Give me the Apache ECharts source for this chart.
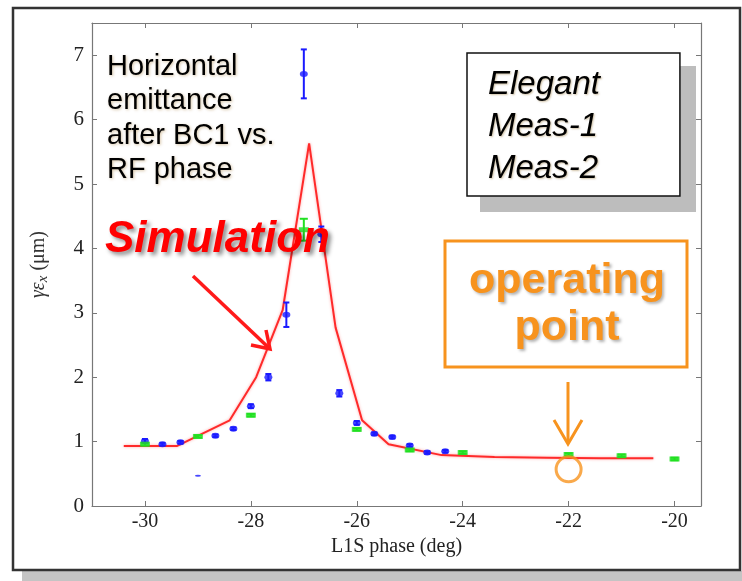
<!DOCTYPE html>
<html><head><meta charset="utf-8">
<script src="https://cdn.jsdelivr.net/npm/echarts@6/dist/echarts.min.js"></script>
<style>html,body{margin:0;padding:0;background:#fff}#c{width:742px;height:581px}</style>
</head><body><div id="c"></div>
<script>
// ---- data ----
const simX = [-30.4, -29.4, -28.4, -27.9, -27.4, -26.9, -26.4, -25.9, -25.4, -24.4, -23.4, -22.4, -21.4, -20.4];
const simY = [0.93, 0.93, 1.33, 2.0, 3.04, 5.63, 2.77, 1.33, 0.96, 0.79, 0.76, 0.75, 0.74, 0.74];

const meas1X = [-30, -29.67, -29.33, -29, -28.67, -28.33, -28, -27.67, -27.33, -27, -26.67, -26.33, -26, -25.67, -25.33, -25, -24.67, -24.33];
const meas1Y = [1.01, 0.96, 0.99, 0.47, 1.09, 1.20, 1.55, 2.00, 2.97, 6.71, 4.22, 1.75, 1.29, 1.12, 1.07, 0.94, 0.83, 0.85];
const meas1Err = [0.03, 0.02, 0.02, 0.0, 0.02, 0.02, 0.03, 0.05, 0.19, 0.38, 0.12, 0.05, 0.03, 0.02, 0.02, 0.02, 0.02, 0.02];

const meas2X = [-30, -29, -28, -27, -26, -25, -24, -22, -21, -20];
const meas2Y = [0.96, 1.08, 1.41, 4.29, 1.19, 0.87, 0.83, 0.80, 0.78, 0.73];
const meas2Err = [0.02, 0.02, 0.02, 0.17, 0.02, 0.02, 0.02, 0.02, 0.02, 0.02];

const opPoint = [-22, 0.57];

const xTicks = [-30, -28, -26, -24, -22, -20];
const yTicks = [0, 1, 2, 3, 4, 5, 6, 7];
const seriesNames = ['Elegant', 'Meas-1', 'Meas-2'];

// ---- build ----
const zip3 = (a, b, c) => a.map((v, i) => c ? [v, b[i], c[i]] : [v, b[i]]);
const BLUE = '#1a1aff', GREEN = '#22e022', RED = '#ff2a2a', ORANGE = '#f7931e';

function errRender(color, hw) {
  return function (params, api) {
    const x = api.value(0), y = api.value(1), e = api.value(2);
    if (!e) return null;
    const t = api.coord([x, y + e]), b = api.coord([x, y - e]);
    const st = { stroke: color, lineWidth: 2 };
    return { type: 'group', children: [
      { type: 'line', shape: { x1: t[0], y1: t[1], x2: b[0], y2: b[1] }, style: st },
      { type: 'line', shape: { x1: t[0] - hw, y1: t[1], x2: t[0] + hw, y2: t[1] }, style: st },
      { type: 'line', shape: { x1: b[0] - hw, y1: b[1], x2: b[0] + hw, y2: b[1] }, style: st }
    ]};
  };
}

const serif = 'Liberation Serif';
const sans = 'Liberation Sans';
const axisCommon = {
  type: 'value',
  splitLine: { show: false },
  axisLine: { show: true, onZero: false, lineStyle: { color: '#777', width: 1.2 } },
};

const chart = echarts.init(document.getElementById('c'));
chart.setOption({
  animation: false,
  backgroundColor: '#fff',
  grid: { left: 92, right: 41, top: 23, bottom: 75 },
  xAxis: [
    Object.assign({}, axisCommon, {
      min: -31, max: -19.5, position: 'bottom',
      axisTick: { show: true, inside: true, length: 5, customValues: xTicks, lineStyle: { color: '#777' } },
      axisLabel: { customValues: xTicks, fontFamily: serif, fontSize: 20, color: '#222', margin: 6 },
      name: 'L1S phase (deg)', nameLocation: 'middle', nameGap: 31,
      nameTextStyle: { fontFamily: serif, fontSize: 20, color: '#222' }
    }),
    Object.assign({}, axisCommon, {
      min: -31, max: -19.5, position: 'top',
      axisTick: { show: true, inside: true, length: 5, customValues: xTicks, lineStyle: { color: '#777' } },
      axisLabel: { show: false }
    })
  ],
  yAxis: [
    Object.assign({}, axisCommon, {
      min: 0, max: 7.5, position: 'left',
      axisTick: { show: true, inside: true, length: 5, customValues: yTicks, lineStyle: { color: '#777' } },
      axisLabel: { customValues: yTicks, fontFamily: serif, fontSize: 21, color: '#222', margin: 8 },
      name: '{i|γε}{s|x}{n| (μm)}', nameLocation: 'middle', nameGap: 41, nameRotate: 90,
      nameTextStyle: { fontFamily: serif, fontSize: 20, color: '#333',
        rich: {
          i: { fontFamily: serif, fontStyle: 'italic', fontSize: 20, color: '#333' },
          s: { fontFamily: serif, fontStyle: 'italic', fontSize: 15, color: '#333', padding: [10, 0, 0, 0] },
          n: { fontFamily: serif, fontSize: 20, color: '#333' }
        } }
    }),
    Object.assign({}, axisCommon, {
      min: 0, max: 7.5, position: 'right',
      axisTick: { show: true, inside: true, length: 5, customValues: yTicks, lineStyle: { color: '#777' } },
      axisLabel: { show: false }
    })
  ],
  legend: {
    data: seriesNames, orient: 'vertical', left: 467, top: 53, z: 10,
    itemWidth: 0, itemHeight: 0, itemGap: 9, selectedMode: false,
    padding: [15, 80, 11, 15],
    backgroundColor: '#fff', borderColor: '#111', borderWidth: 1.5,
    textStyle: { fontFamily: sans, fontStyle: 'italic', fontSize: 33, lineHeight: 30, color: '#000',
      textShadowColor: 'rgba(120,80,0,0.35)', textShadowBlur: 2, textShadowOffsetX: 1, textShadowOffsetY: 1 }
  },
  series: [
    { name: seriesNames[0], type: 'line', data: zip3(simX, simY), symbol: 'none',
      lineStyle: { color: RED, width: 2, shadowColor: 'rgba(255,0,0,0.35)', shadowBlur: 3 }, itemStyle: { color: RED }, z: 3 },
    { name: seriesNames[1] + ' err', type: 'custom', data: zip3(meas1X, meas1Y, meas1Err), renderItem: errRender(BLUE, 3), z: 4 },
    { name: seriesNames[1], type: 'scatter', data: zip3(meas1X, meas1Y),
      symbol: 'circle', symbolSize: (v, p) => p.dataIndex === 3 ? [6, 2] : [8, 6],
      itemStyle: { color: BLUE }, z: 5 },
    { name: seriesNames[2] + ' err', type: 'custom', data: zip3(meas2X, meas2Y, meas2Err), renderItem: errRender(GREEN, 4), z: 4 },
    { name: seriesNames[2], type: 'scatter', data: zip3(meas2X, meas2Y),
      symbol: 'rect', symbolSize: [10, 5], itemStyle: { color: GREEN }, z: 5 },
    { name: 'operating point', type: 'scatter', data: [opPoint], symbol: 'circle', symbolSize: 25,
      itemStyle: { color: 'rgba(0,0,0,0)', borderColor: ORANGE, borderWidth: 3 }, z: 6 }
  ],
  graphic: [
    { type: 'rect', z: -10, silent: true, shape: { x: 22, y: 571, width: 720, height: 10 }, style: { fill: '#c4c4c4' } },
    { type: 'rect', z: -9, silent: true, shape: { x: 13, y: 8, width: 727, height: 562 }, style: { fill: 'none', stroke: '#333', lineWidth: 2.5 } },
    { type: 'rect', z: 1, silent: true, shape: { x: 480, y: 66, width: 216, height: 146 }, style: { fill: '#bdbdbd' } },
    { type: 'text', z: 100, left: 107, top: 50,
      style: { text: 'Horizontal\nemittance\nafter BC1 vs.\nRF phase', font: '29px "Liberation Sans"', lineHeight: 34.3, fill: '#000',
        textShadowColor: 'rgba(140,90,0,0.35)', textShadowBlur: 3, textShadowOffsetX: 1, textShadowOffsetY: 1 } },
    { type: 'text', z: 100, x: 105, y: 240,
      style: { text: 'Simulation', font: 'italic bold 44px "Liberation Sans"', fill: '#ff0000', verticalAlign: 'middle',
        textShadowColor: 'rgba(0,0,0,0.45)', textShadowBlur: 4, textShadowOffsetX: 3, textShadowOffsetY: 3 } },
    { type: 'polyline', z: 100, shape: { points: [[193, 276], [269, 348]] }, style: { stroke: '#ff1a1a', lineWidth: 3.5, fill: 'none' } },
    { type: 'polyline', z: 100, shape: { points: [[251, 345], [270, 349], [266, 330]] }, style: { stroke: '#ff1a1a', lineWidth: 3.5, fill: 'none' } },
    { type: 'rect', z: 100, shape: { x: 445, y: 241, width: 242, height: 126 }, style: { fill: 'none', stroke: ORANGE, lineWidth: 3 } },
    { type: 'text', z: 100, x: 567, y: 281,
      style: { text: 'operating', font: 'bold 43px "Liberation Sans"', fill: ORANGE, align: 'center', verticalAlign: 'middle',
        textShadowColor: 'rgba(0,0,0,0.3)', textShadowBlur: 3, textShadowOffsetX: 2, textShadowOffsetY: 2 } },
    { type: 'text', z: 100, x: 567, y: 328,
      style: { text: 'point', font: 'bold 43px "Liberation Sans"', fill: ORANGE, align: 'center', verticalAlign: 'middle',
        textShadowColor: 'rgba(0,0,0,0.3)', textShadowBlur: 3, textShadowOffsetX: 2, textShadowOffsetY: 2 } },
    { type: 'polyline', z: 100, shape: { points: [[568, 382], [568, 443]] }, style: { stroke: ORANGE, lineWidth: 3, fill: 'none' } },
    { type: 'polyline', z: 100, shape: { points: [[554, 420], [568, 444], [582, 420]] }, style: { stroke: ORANGE, lineWidth: 3, fill: 'none' } }
  ]
});
</script>
</body></html>
